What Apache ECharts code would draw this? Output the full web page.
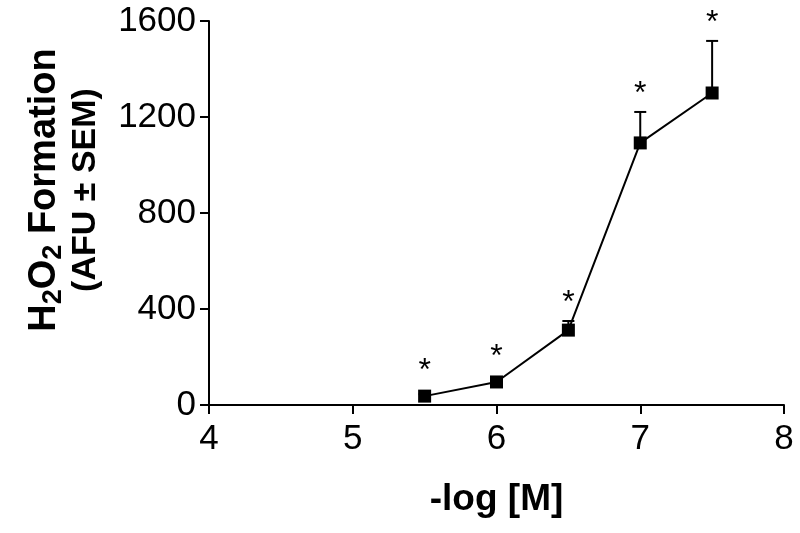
<!DOCTYPE html>
<html>
<head>
<meta charset="utf-8">
<script src="https://cdn.jsdelivr.net/npm/echarts@6/dist/echarts.min.js"></script>
<style>
  html, body { margin: 0; padding: 0; background: #fff; }
  #chart { width: 800px; height: 533px; }
</style>
</head>
<body>
<div id="chart"></div>
<script>
// Data
const logConc = [5.5, 6.0, 6.5, 7.0, 7.5];
const meanAFU = [37, 96, 312, 1092, 1300];
const semAFU  = [8, 12, 38, 129, 217];
const significant = [true, true, true, true, true];
const xTicks = [4, 5, 6, 7, 8];
const yTicks = [0, 400, 800, 1200, 1600];

const FONT = 'Liberation Sans, Arial, sans-serif';

const lineData = logConc.map((x, i) => [x, meanAFU[i]]);
const errData = logConc.map((x, i) => [x, meanAFU[i], semAFU[i], significant[i] ? 1 : 0]);

const chart = echarts.init(document.getElementById('chart'), null, { renderer: 'canvas' });

const axisCommon = {
  axisLine: { show: true, lineStyle: { color: '#000', width: 2 } },
  axisTick: { show: true, inside: false, length: 9, lineStyle: { color: '#000', width: 2 } },
  splitLine: { show: false },
  axisLabel: { color: '#000', fontSize: 35, fontFamily: FONT, formatter: function (v) { return String(v); } }
};

chart.setOption({
  animation: false,
  backgroundColor: '#fff',
  grid: { left: 209, right: 16, top: 21, bottom: 128, containLabel: false, outerBoundsMode: 'none' },
  xAxis: Object.assign({}, axisCommon, {
    type: 'value',
    min: xTicks[0], max: xTicks[xTicks.length - 1], interval: 1,
    name: '-log [M]',
    nameLocation: 'middle',
    nameGap: 76,
    nameTextStyle: { color: '#000', fontSize: 37, fontWeight: 'bold', fontFamily: FONT },
    axisLabel: Object.assign({}, axisCommon.axisLabel, { margin: 17 })
  }),
  yAxis: Object.assign({}, axisCommon, {
    type: 'value',
    min: yTicks[0], max: yTicks[yTicks.length - 1], interval: 400,
    axisLabel: Object.assign({}, axisCommon.axisLabel, { margin: 13 })
  }),
  graphic: [{
    type: 'text',
    x: 64, y: 190,
    rotation: Math.PI / 2,
    style: {
      text: '{b|H}{s|2}{b|O}{s|2}{b| Formation}\n{c|(AFU ± SEM)}',
      align: 'center',
      verticalAlign: 'middle',
      fill: '#000',
      rich: {
        b: { fontSize: 38, fontWeight: 'bold', fontFamily: FONT, lineHeight: 44, verticalAlign: 'middle' },
        s: { fontSize: 27, fontWeight: 'bold', fontFamily: FONT, lineHeight: 20, verticalAlign: 'bottom' },
        c: { fontSize: 34, fontWeight: 'bold', fontFamily: FONT, lineHeight: 38 }
      }
    }
  }],
  series: [
    {
      type: 'custom',
      z: 1,
      data: errData,
      renderItem: function (params, api) {
        const x = api.value(0), m = api.value(1), e = api.value(2), sig = api.value(3);
        const p = api.coord([x, m]);
        const t = api.coord([x, m + e]);
        const children = [
          { type: 'line', shape: { x1: p[0], y1: p[1], x2: t[0], y2: t[1] }, style: { stroke: '#000', lineWidth: 2 } },
          { type: 'line', shape: { x1: t[0] - 6, y1: t[1], x2: t[0] + 6, y2: t[1] }, style: { stroke: '#000', lineWidth: 2 } }
        ];
        if (sig) {
          const topY = Math.min(t[1], p[1] - 7);
          children.push({
            type: 'text',
            style: { text: '*', x: p[0], y: topY - 18, align: 'center', verticalAlign: 'middle', fontSize: 32, fontFamily: FONT, fill: '#000' }
          });
        }
        return { type: 'group', children: children };
      }
    },
    {
      type: 'line',
      z: 3,
      data: lineData,
      symbol: 'rect',
      symbolSize: 13,
      itemStyle: { color: '#000' },
      lineStyle: { color: '#000', width: 2 }
    }
  ]
});
</script>
</body>
</html>
